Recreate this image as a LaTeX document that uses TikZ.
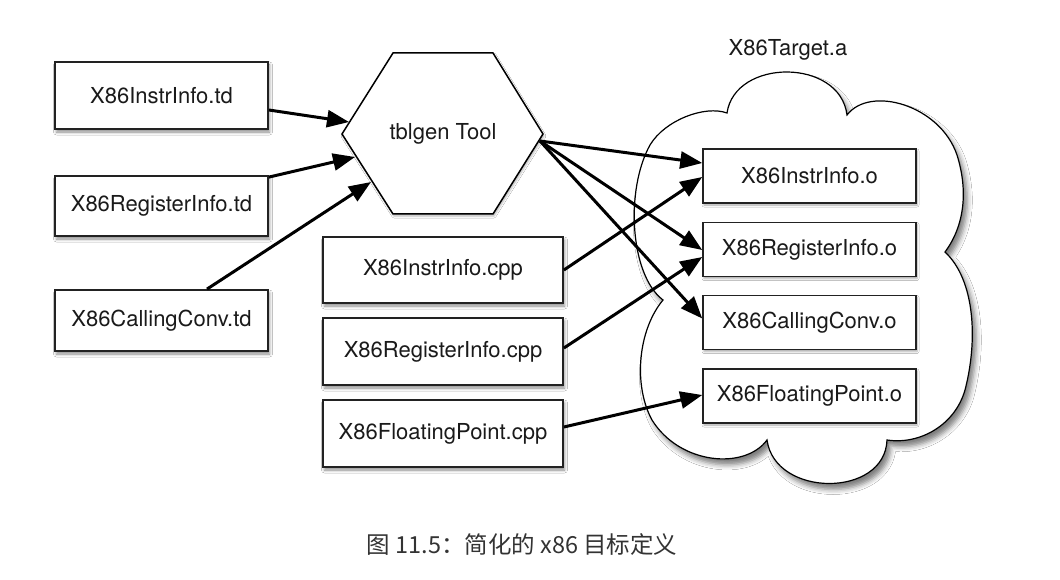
\documentclass[tikz,border=0pt]{standalone}
\usepackage{fontspec}
\setmainfont{TeX Gyre Heros}
\newfontfamily\cjk{Noto Sans CJK SC}
\usetikzlibrary{arrows.meta,shadows.blur}
\definecolor{edgec}{HTML}{222222}
\definecolor{txtc}{HTML}{1A1A1A}
\definecolor{capc}{HTML}{333333}
\begin{document}
\begin{tikzpicture}[x=1pt,y=-1pt,
  filebox/.style={draw=edgec, line width=1.8pt, fill=white, inner sep=0pt,
    text=txtc, font=\fontsize{22}{26}\selectfont,
    blur shadow={shadow xshift=1.5pt, shadow yshift=-3pt, shadow blur radius=3pt, shadow opacity=45}},
  objbox/.style={draw=edgec, line width=1.5pt, fill=white, inner sep=0pt,
    text=txtc, font=\fontsize{22}{26}\selectfont, minimum width=213pt, minimum height=54pt,
    blur shadow={shadow xshift=1pt, shadow yshift=-2pt, shadow blur radius=2pt, shadow opacity=35}},
  lbl/.style={text=txtc, font=\fontsize{22}{26}\selectfont, inner sep=0pt},
  arr/.style={line width=3pt, draw=black, -{Triangle[length=22pt,width=17pt]}},
]
\useasboundingbox (0,0) rectangle (1060,580);
\fill[white] (0,0) rectangle (1060,580);

% cloud
\draw[line width=1.2pt, fill=white,
  blur shadow={shadow xshift=4pt, shadow yshift=-6pt, shadow blur radius=5pt, shadow opacity=50}]
  (727,113) .. controls (735,58) and (840,58) .. (847,115)
  .. controls (870,85) and (940,105) .. (957,155)
  .. controls (968,190) and (965,225) .. (945,252)
  .. controls (975,280) and (978,340) .. (965,390)
  .. controls (955,425) and (920,445) .. (887,440)
  .. controls (885,498) and (775,498) .. (767,440)
  .. controls (745,470) and (680,465) .. (652,420)
  .. controls (633,385) and (638,330) .. (663,300)
  .. controls (630,275) and (625,190) .. (650,145)
  .. controls (665,120) and (705,105) .. cycle;
\node[lbl] (target) at (788,50) {X86Target.a};

% hexagon
\draw[line width=1.5pt, fill=white,
  blur shadow={shadow xshift=1pt, shadow yshift=-2pt, shadow blur radius=2pt, shadow opacity=30}]
  (342,134) -- (393,53) -- (493,53) -- (543,134) -- (493,214) -- (393,214) -- cycle;
\node[lbl] (tool) at (443,134) {tblgen Tool};
\coordinate (h1) at (349,122);
\coordinate (h2) at (355,157);
\coordinate (h3) at (371,182);
\coordinate (hr) at (540,141);

% td files
\node[filebox, minimum width=213pt, minimum height=67pt] (td1) at (161.5,95.5) {X86InstrInfo.td};
\node[filebox, minimum width=213pt, minimum height=60pt] (td2) at (161.5,206) {X86RegisterInfo.td};
\node[filebox, minimum width=213pt, minimum height=61pt] (td3) at (161.5,320.5) {X86CallingConv.td};

% cpp files
\node[filebox, minimum width=240pt, minimum height=66pt] (ic) at (443,270) {X86InstrInfo.cpp};
\node[filebox, minimum width=240pt, minimum height=67pt] (rc) at (443,351.5) {X86RegisterInfo.cpp};
\node[filebox, minimum width=240pt, minimum height=67pt] (fc) at (443,433.5) {X86FloatingPoint.cpp};

% object files
\node[objbox] (io) at (809.5,176) {X86InstrInfo.o};
\node[objbox] (ro) at (809.5,249.5) {X86RegisterInfo.o};
\node[objbox] (co) at (809.5,322.5) {X86CallingConv.o};
\node[objbox] (fo) at (809.5,396) {X86FloatingPoint.o};

% arrows
\draw[arr] ([yshift=-14.5pt]td1.east) -- (h1);
\draw[arr] ([yshift=-2pt]td2.north east) -- (h2);
\draw[arr] ([xshift=45.5pt]td3.north) -- (h3);
\draw[arr] (hr) -- ([yshift=13pt]io.west);
\draw[arr] (hr) -- ([yshift=-0.5pt]ro.west);
\draw[arr] (hr) -- ([yshift=4pt]co.west);
\draw[arr] (ic.east) -- ([yshift=-1pt]io.west);
\draw[arr] ([yshift=3.5pt]rc.east) -- ([yshift=-7.5pt]ro.west);
\draw[arr] ([yshift=6.5pt]fc.east) -- ([yshift=1pt]fo.west);

% caption
\node[text=capc, font=\cjk\fontsize{23.5}{28}\selectfont, inner sep=0pt] (caption) at (522,545) {图 11.5：简化的 x86 目标定义};
\end{tikzpicture}
\end{document}
